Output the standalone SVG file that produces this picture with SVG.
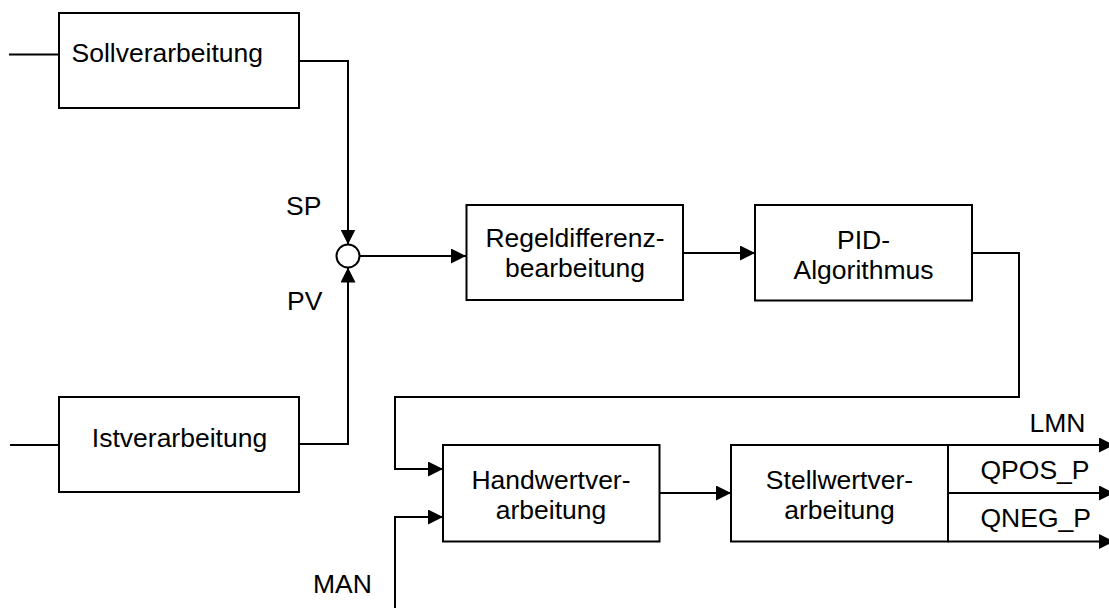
<svg xmlns="http://www.w3.org/2000/svg" width="1109" height="608" viewBox="0 0 1109 608">
<style>
.box{fill:#fff;stroke:#000;stroke-width:2}
.ln{fill:none;stroke:#000;stroke-width:2}
.arr{fill:none;stroke:#000;stroke-width:2;marker-end:url(#ah)}
text{font-family:"Liberation Sans",Arial,Helvetica,sans-serif;font-size:26.5px;fill:#000}
.c{text-anchor:middle}
</style>
<defs>
<marker id="ah" markerUnits="userSpaceOnUse" markerWidth="15" markerHeight="15" refX="15" refY="7.5" orient="auto">
<path d="M0,0 L15,7.5 L0,15 Z" fill="#000"/>
</marker>
</defs>
<rect width="1109" height="608" fill="#fff"/>
<g id="connectors">
<path class="ln" d="M9,54.5 H59"/>
<path class="arr" d="M299,61 H348 V244.5"/>
<path class="ln" d="M10,445 H59"/>
<path class="arr" d="M299,444 H348 V267.5"/>
<path class="arr" d="M359.5,256 H466"/>
<path class="arr" d="M683,253 H755"/>
<path class="arr" d="M972,253 H1019 V397 H395 V469 H443"/>
<path class="arr" d="M395,608 V517 H443"/>
<path class="arr" d="M659,493 H731"/>
<path class="arr" d="M948,445 H1114"/>
<path class="arr" d="M948,493 H1114"/>
<path class="arr" d="M948,541.5 H1114"/>
</g>
<g id="summing">
<circle cx="348" cy="256" r="11.5" fill="#fff" stroke="#000" stroke-width="2"/>
</g>
<g id="soll">
<rect class="box" x="59" y="13" width="240" height="95"/>
<text x="71.5" y="62">Sollverarbeitung</text>
</g>
<g id="ist">
<rect class="box" x="59" y="397" width="240" height="95"/>
<text class="c" x="179.5" y="447">Istverarbeitung</text>
</g>
<g id="regeldiff">
<rect class="box" x="466.5" y="205" width="216.5" height="95"/>
<text class="c" x="575" y="247">Regeldifferenz-</text>
<text class="c" x="575" y="277">bearbeitung</text>
</g>
<g id="pid">
<rect class="box" x="755" y="205" width="217" height="95.5"/>
<text class="c" x="863.5" y="248.5">PID-</text>
<text class="c" x="863.5" y="278.5">Algorithmus</text>
</g>
<g id="handwert">
<rect class="box" x="443" y="445" width="216.5" height="96.5"/>
<text class="c" x="551" y="488.5">Handwertver-</text>
<text class="c" x="551" y="518.5">arbeitung</text>
</g>
<g id="stellwert">
<rect class="box" x="731" y="445" width="217" height="96.5"/>
<text class="c" x="839.5" y="488.5">Stellwertver-</text>
<text class="c" x="839.5" y="518.5">arbeitung</text>
</g>
<g id="labels">
<text x="286" y="214.5">SP</text>
<text x="287" y="309.5">PV</text>
<text x="313" y="593">MAN</text>
<text x="1029.5" y="431.5">LMN</text>
<text x="980.5" y="478.5">QPOS_P</text>
<text x="980.5" y="526.5">QNEG_P</text>
</g>
</svg>
